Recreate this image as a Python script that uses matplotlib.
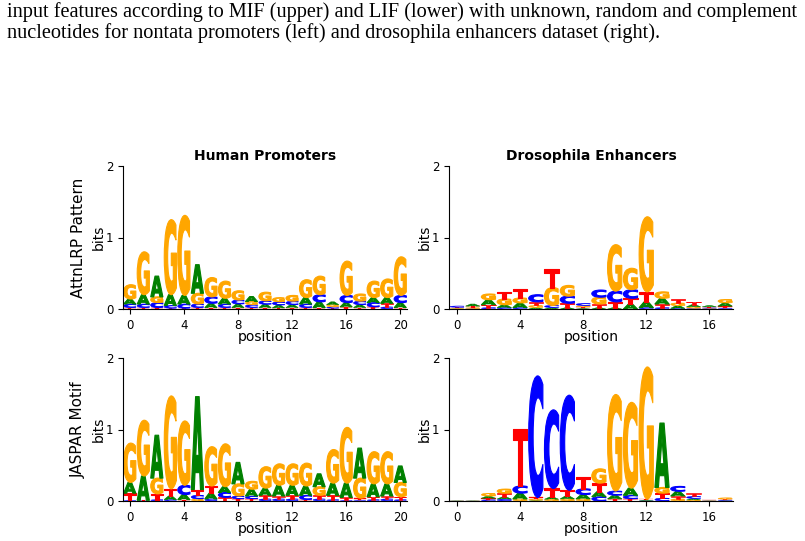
import matplotlib
matplotlib.use("Agg")
import matplotlib.pyplot as plt
from matplotlib.textpath import TextPath
from matplotlib.patches import PathPatch
from matplotlib.font_manager import FontProperties
from matplotlib.transforms import Affine2D

# caption above the figure
caption = [
    "input features according to MIF (upper) and LIF (lower) with unknown, random and complement",
    "nucleotides for nontata promoters (left) and drosophila enhancers dataset (right).",
]

col_titles = ["Human Promoters", "Drosophila Enhancers"]
row_titles = ["AttnLRP Pattern", "JASPAR Motif"]

# Human promoters, AttnLRP pattern (bits, positions 0-20)
hp_lrp_A = [.07, .13, .29, .15, .12, .40, .06, .08, .05, .07, .045, .04, .04, .09, .08, .04, .06, .04, .07, .08, .07]
hp_lrp_C = [.05, .05, .07, .04, .06, .05, .09, .05, .055, .04, .05, .045, .05, .05, .10, .02, .10, .05, .06, .03, .10]
hp_lrp_G = [.20, .60, .08, 1.05, 1.12, .15, .27, .24, .13, .045, .12, .06, .08, .25, .26, .03, .48, .10, .23, .26, .54]
hp_lrp_T = [.02, .02, .02, .01, .01, .02, .02, .02, .02, .02, .02, .015, .02, .02, .02, .01, .03, .02, .03, .05, .02]

# Drosophila enhancers, AttnLRP pattern (bits, positions 0-17)
de_lrp_A = [.005, .03, .07, .04, .065, .02, .02, .02, .01, .02, .02, .07, .08, .08, .035, .03, .02, .045]
de_lrp_C = [.02, .005, .02, .02, .02, .10, .03, .10, .03, .10, .15, .12, .02, .02, .01, .01, .01, .01]
de_lrp_G = [.008, .015, .08, .08, .07, .03, .25, .15, .02, .095, .65, .30, 1.05, .09, .04, .02, .008, .05]
de_lrp_T = [.01, .02, .04, .10, .12, .05, .26, .06, .018, .05, .08, .08, .14, .05, .05, .04, .012, .03]

# Human promoters, JASPAR motif (bits, positions 0-20)
hp_jas_A = [.15, .34, .60, .05, .07, 1.30, .08, .08, .30, .095, .10, .15, .14, .13, .18, .17, .20, .42, .18, .17, .23]
hp_jas_C = [.01, .005, .02, .02, .13, .05, .03, .07, .04, .04, .03, .03, .03, .06, .03, .02, .01, .01, .02, .03, .02]
hp_jas_G = [.55, .78, .22, 1.30, .90, .03, .55, .60, .17, .11, .30, .30, .30, .32, .12, .47, .78, .28, .45, .45, .20]
hp_jas_T = [.10, .005, .08, .10, .02, .08, .10, .05, .03, .03, .05, .04, .05, .02, .05, .06, .04, .03, .04, .04, .04]

# Drosophila enhancers, JASPAR motif (bits, positions 0-17)
de_jas_A = [.003, .003, .03, .03, .08, .01, .03, .04, .06, .07, .05, .10, .01, .90, .065, .02, .003, .005]
de_jas_C = [.002, .002, .018, .028, .10, 1.70, 1.10, 1.33, .08, .06, .06, .05, .005, .04, .07, .03, .002, .01]
de_jas_G = [.002, .002, .04, .06, .03, .02, .025, .03, .03, .20, 1.35, 1.20, 1.85, .08, .03, .015, .002, .02]
de_jas_T = [.002, .002, .02, .05, .80, .02, .12, .08, .17, .12, .03, .03, .01, .07, .04, .04, .01, .01]

panels = [
    [(hp_lrp_A, hp_lrp_C, hp_lrp_G, hp_lrp_T), (de_lrp_A, de_lrp_C, de_lrp_G, de_lrp_T)],
    [(hp_jas_A, hp_jas_C, hp_jas_G, hp_jas_T), (de_jas_A, de_jas_C, de_jas_G, de_jas_T)],
]

colors = {"A": (0, .5, 0), "C": (0, 0, 1), "G": (1, .65, 0), "T": (1, 0, 0)}
glyph_font = FontProperties(family="DejaVu Sans", weight="bold")


def draw_letter(ax, c, x, y, h, w=0.9):
    path = TextPath((0, 0), c, size=1, prop=glyph_font)
    ext = path.get_extents()
    tr = (Affine2D().translate(-ext.x0, -ext.y0)
          .scale(w / ext.width, h / ext.height)
          .translate(x - w / 2, y))
    # thin outline in the same colour makes the glyphs look heavier,
    # kept thinner for the tiny letters so they don't turn into blobs
    lw = 0.8 * min(1.0, h / 0.08)
    ax.add_patch(PathPatch(tr.transform_path(path), facecolor=colors[c],
                           edgecolor=colors[c], lw=lw, joinstyle="round"))


def draw_logo(ax, A, C, G, T):
    for i in range(len(A)):
        # smallest at the bottom, biggest on top
        stack = sorted(zip([A[i], C[i], G[i], T[i]], "ACGT"))
        y = 0
        for h, c in stack:
            if h > 0:
                draw_letter(ax, c, i, y, h)
            y += h
    ax.set_xlim(-0.5, len(A) - 0.5)
    ax.set_ylim(0, 2)
    ax.set_xticks(range(0, len(A), 4))
    ax.set_yticks([0, 1, 2])
    ax.spines["top"].set_visible(False)
    ax.spines["right"].set_visible(False)
    ax.tick_params(labelsize=8.5, length=3.5)
    ax.set_xlabel("position", fontsize=10, labelpad=-1)
    ax.set_ylabel("bits", fontsize=10, labelpad=0)


fig = plt.figure(figsize=(8.05, 5.41), dpi=100)

for k, line in enumerate(caption):
    fig.text(7 / 805, 1 - (12 + 21 * k) / 541, line, family="Liberation Serif",
             fontsize=14.6, va="center", ha="left")

lefts = [123 / 805, 449 / 805]
bottoms = [1 - 309 / 541, 1 - 501 / 541]
w = 284 / 805
h = 143 / 541

for r in range(2):
    for c in range(2):
        ax = fig.add_axes([lefts[c], bottoms[r], w, h])
        draw_logo(ax, *panels[r][c])
        if r == 0:
            ax.set_title(col_titles[c], fontsize=10, fontweight="bold", pad=4)
        if c == 0:
            ax.text(-0.158, 0.5, row_titles[r], transform=ax.transAxes, rotation=90,
                    fontsize=11, ha="center", va="center")

fig.savefig("out.png", dpi=100)
